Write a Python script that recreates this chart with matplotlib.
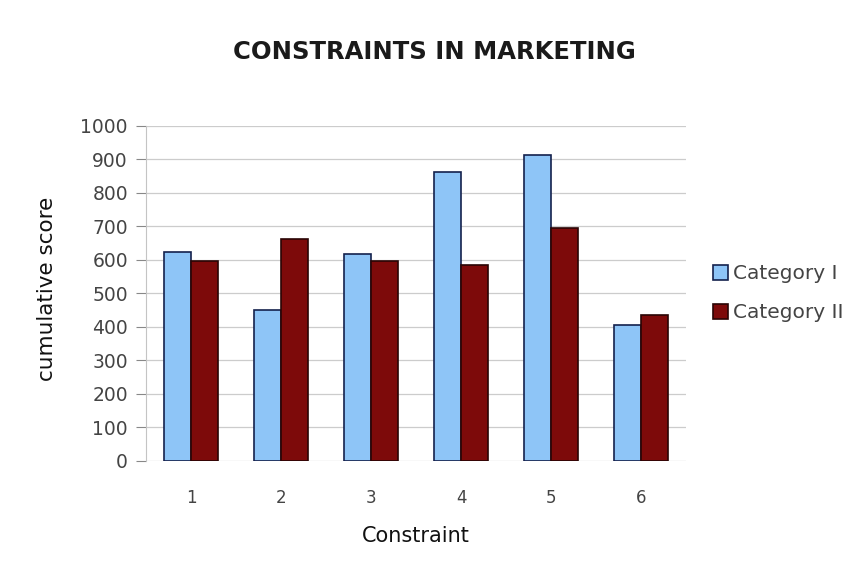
import matplotlib
matplotlib.use('Agg')
import matplotlib.pyplot as plt
import numpy as np

################################
## DATA:                      ##

constraints = ['1', '2', '3', '4', '5', '6']
category_1 = [623, 452, 619, 862, 914, 407]
category_2 = [598, 663, 596, 585, 695, 436]
yticks = [0, 100, 200, 300, 400, 500, 600, 700, 800, 900, 1000]


################################
## SETUP:                     ##

plt.rcParams['font.family'] = ['DejaVu Sans']

fig = plt.figure(figsize=(8.49, 5.67), dpi=100)
ax = fig.add_axes([0.172, 0.187, 0.636, 0.591])

x = np.arange(1, len(constraints) + 1)
w = 0.3

ax.bar(x - w / 2, category_1, width=w, color='#8ec5f7', edgecolor='#14214d',
       linewidth=1.2, label='Category I', zorder=3)
ax.bar(x + w / 2, category_2, width=w, color='#7d0a0a', edgecolor='#2a0505',
       linewidth=1.2, label='Category II', zorder=3)

ax.set_xlim(0.5, 6.5)
ax.set_ylim(0, 1000)
ax.set_yticks(yticks)
ax.set_xticks(x)
ax.set_xticklabels(constraints)
ax.tick_params(axis='x', length=0, pad=20, labelsize=12, colors='#444444')
ax.tick_params(axis='y', length=7, width=0.8, color='#888888', pad=6,
               labelsize=13.5, labelcolor='#444444')
ax.yaxis.grid(True, color='#cccccc', linewidth=0.9, zorder=0)

for side in ['top', 'right', 'bottom']:
    ax.spines[side].set_visible(False)
ax.spines['left'].set_color('#c4c4c4')
ax.spines['left'].set_linewidth(0.8)

ax.set_xlabel('Constraint', fontsize=15, labelpad=14, color='#111111')
ax.set_ylabel('cumulative score', fontsize=15.5, color='#111111')
ax.yaxis.set_label_coords(-0.165, 0.515)

fig.text(0.512, 0.908, 'CONSTRAINTS IN MARKETING', ha='center', va='center',
         fontsize=17.5, fontweight='bold', color='#1a1a1a')

ax.legend(loc='center left', bbox_to_anchor=(1.016, 0.5), frameon=False,
          fontsize=14.5, handlelength=0.75, handleheight=0.8, handletextpad=0.25,
          labelspacing=1.0, labelcolor='#444444')

fig.savefig('out.png', dpi=100, facecolor='white')
